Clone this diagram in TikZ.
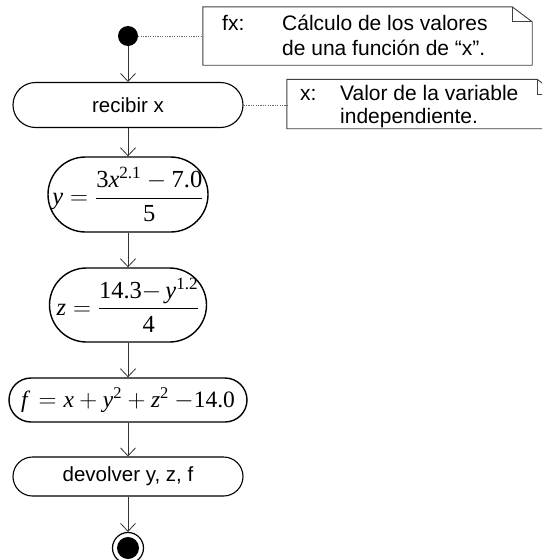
\documentclass[tikz,border=0pt]{standalone}
\usepackage{amsmath}
\usepackage[no-math]{fontspec}
\setmainfont{Liberation Sans}
\newfontfamily\tnr{Liberation Serif}
\newcommand\vi[1]{\text{\tnr\itshape #1}}
\newcommand\nm[1]{\text{\tnr #1}}
\usetikzlibrary{arrows.meta}
\begin{document}
\begin{tikzpicture}[x=1pt,y=-1pt,
  act/.style={draw=black, line width=1.1pt, rectangle, inner sep=0pt, align=center},
  mth/.style={act, line width=1.4pt, font=\fontsize{24.5}{28}\selectfont},
  txt/.style={act, font=\fontsize{20.5}{24}\selectfont},
  arr/.style={draw=black!80, line width=0.8pt, -{Straight Barb[length=8pt,width=15pt]}},
  dot/.style={draw=black!60, line width=1pt, dash pattern=on 1.2pt off 1.2pt},
  notebox/.style={rectangle, inner sep=0pt},
  notedraw/.style={draw=black!75, line width=0.9pt, fill=white},
  ntxt/.style={inner sep=0pt, anchor=base west, font=\fontsize{21}{25}\selectfont}
]
\path[use as bounding box] (0,0) rectangle (542,560);
\clip (0,0) rectangle (542,560);

% notes
\node[notebox, minimum width=329pt, minimum height=58pt] (n1) at (367.5,36) {};
\draw[notedraw] (n1.south west) -- (n1.north west) -- ([xshift=-20pt]n1.north east)
  -- ([yshift=-15pt]n1.north east) -- (n1.south east) -- cycle;
\draw[notedraw, fill=none] ([xshift=-20pt]n1.north east) |- ([yshift=-15pt]n1.north east);
\node[ntxt] (n1a) at (222,30) {fx:};
\node[ntxt] (n1b) at (282,30) {Cálculo de los valores};
\node[ntxt] (n1c) at (282,55) {de una función de “x”.};

\node[notebox, minimum width=270pt, minimum height=49pt] (n2) at (422,104) {};
\draw[notedraw] (n2.south west) -- (n2.north west) -- ([xshift=-20pt]n2.north east)
  -- ([yshift=-15pt]n2.north east) -- (n2.south east) -- cycle;
\draw[notedraw, fill=none] ([xshift=-20pt]n2.north east) |- ([yshift=-15pt]n2.north east);
\node[ntxt] (n2a) at (300,100) {x:};
\node[ntxt] (n2b) at (340,100) {Valor de la variable};
\node[ntxt] (n2c) at (340,123) {independiente.};

% flow
\node[circle, fill=black, inner sep=0pt, minimum size=20pt] (start) at (128,36) {};
\node[txt, minimum width=230pt, minimum height=45pt, rounded corners=22.5pt] (recv) at (128,105) {recibir x};
\node[mth, minimum width=160pt, minimum height=75pt, rounded corners=37.5pt] (ny) at (128,194.5)
  {$\vi{y}=\dfrac{\nm{3}\vi{x}^{\nm{2.1}}-\nm{7.0}}{\nm{5}}$};
\node[mth, minimum width=157pt, minimum height=74pt, rounded corners=37pt] (nz) at (128,305)
  {$\vi{z}=\dfrac{\nm{14.3}{-}\,\vi{y}^{\nm{1.2}}}{\nm{4}}$};
\node[mth, font=\fontsize{23.5}{27}\selectfont, minimum width=238pt, minimum height=44pt, rounded corners=22pt] (nf) at (128,400)
  {$\vi{f}\,=\vi{x}+\vi{y}^{\nm{2}}+\vi{z}^{\nm{2}}\mskip\medmuskip{-}\nm{14.0}$};
\node[txt, minimum width=230pt, minimum height=39pt, rounded corners=19.5pt] (ret) at (128,476.5) {devolver y, z, f};
\node[circle, draw=black, line width=1.2pt, inner sep=0pt, minimum size=31pt] (endo) at (128,548) {};
\node[circle, fill=black, inner sep=0pt, minimum size=22pt] (endi) at (endo.center) {};

\draw[dot] (start) -- (start -| n1.west);
\draw[dot] (recv) -- (recv -| n2.west);

\draw[arr] (start) -- (recv);
\draw[arr] (recv) -- (ny);
\draw[arr] (ny) -- (nz);
\draw[arr] (nz) -- (nf);
\draw[arr] (nf) -- (ret);
\draw[arr] (ret) -- (endo);
\end{tikzpicture}
\end{document}
